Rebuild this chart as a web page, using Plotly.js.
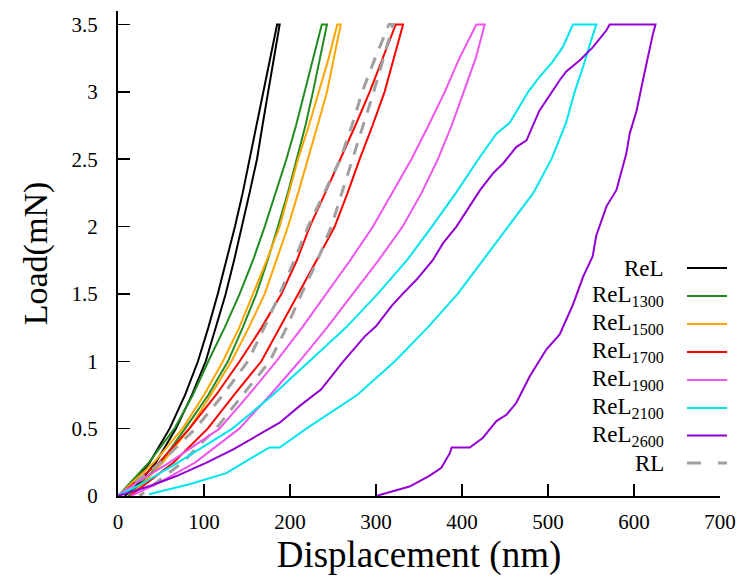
<!DOCTYPE html>
<html>
<head>
<meta charset="utf-8">
<script src="https://cdn.plot.ly/plotly-3.0.1.min.js"></script>
<style>html,body{margin:0;padding:0;background:#fff;}#chart{width:743px;height:580px;}</style>
</head>
<body>
<div id="chart"></div>
<script>
// ---- data (displacement nm, load mN): loading, hold, unloading ----
const relX = [0, 18, 37, 60, 78, 93, 105, 116, 126, 136, 145, 153, 161, 169, 177, 185,
              188, 181, 174.6, 168, 161.6, 153, 144.4, 135, 125.2, 114, 102, 86, 67.4, 44, 25, 8];
const relY = [0, 0.1, 0.25, 0.5, 0.75, 1.0, 1.25, 1.5, 1.75, 2.0, 2.25, 2.5, 2.75, 3.0, 3.25, 3.5,
              3.5, 3.25, 3.0, 2.75, 2.5, 2.25, 2.0, 1.75, 1.5, 1.25, 1.0, 0.75, 0.5, 0.25, 0.1, 0];

const rel1300X = [0, 14, 36, 65.6, 87, 105, 124, 141.5, 157, 170.6, 183, 195.8, 207, 217.1, 227, 237,
                  243, 235, 226.7, 218, 208.1, 197.5, 186, 174, 160.9, 145, 127.9, 105, 78, 50, 28, 12];
const rel1300Y = relY.slice();

const rel1500X = [0, 17, 42, 75, 100, 122, 141, 157, 173, 188, 199, 209.3, 222, 233.4, 245, 255,
                  259, 251, 243, 232, 220.9, 209.5, 197.7, 184.5, 170.6, 152, 132, 108, 83, 52, 30, 14];
const rel1500Y = relY.slice();

const rel1700X = [0, 20, 48, 83, 114, 141.5, 167, 190, 208, 223, 241, 258.6, 276, 292.7, 308, 323,
                  331.5, 321, 310, 296, 281, 267, 252, 231, 209.3, 188, 166.7, 135, 104.3, 65, 35, 14];
const rel1700Y = relY.slice();

const rel1900X = [0, 22, 60, 118, 152, 184, 214, 242.3, 270, 296.5, 319, 341.2, 361, 380, 397, 416.7,
                  426.4, 416, 402, 388, 372, 353, 331, 303, 273, 243, 211, 177, 141, 90, 48, 15];
const rel1900Y = relY.slice();

const rel2100X = [0, 30, 70, 133, 180, 223, 265, 302, 336, 365, 393, 419, 440, 455.5, 477, 490, 505, 517, 529,
                  556.3, 550, 541, 531, 521, 504, 483, 454, 425, 395, 360, 322, 278, 219, 188, 176, 152, 126, 83, 36];
const rel2100Y = [0, 0.1, 0.25, 0.5, 0.75, 1.0, 1.25, 1.5, 1.75, 2.0, 2.25, 2.5, 2.69, 2.77, 3.0, 3.11, 3.22, 3.33, 3.5,
                  3.5, 3.38, 3.19, 3.0, 2.77, 2.5, 2.25, 2.0, 1.75, 1.5, 1.25, 1.0, 0.75, 0.5, 0.36, 0.36, 0.27, 0.17, 0.087, 0.013];

const rel2600X = [0, 37, 68, 103, 134, 161, 188, 211, 236, 262, 287, 300, 318, 331, 347, 366, 378, 393.5, 409, 421, 436, 448, 463, 475, 490, 505, 514, 521, 537, 552, 568, 571.7,
                  625, 622, 616, 610.5, 603, 595, 591, 579.5, 568, 556, 552, 541, 529, 513.6, 498, 479, 463, 452, 440, 424, 409, 388, 386, 376, 362, 339, 300];
const rel2600Y = [0, 0.074, 0.148, 0.247, 0.346, 0.444, 0.544, 0.667, 0.79, 1.0, 1.185, 1.26, 1.41, 1.5, 1.605, 1.75, 1.877, 2.0, 2.15, 2.27, 2.395, 2.47, 2.59, 2.64, 2.86, 3.01, 3.09, 3.15, 3.235, 3.33, 3.457, 3.5,
                  3.5, 3.43, 3.26, 3.09, 2.86, 2.69, 2.54, 2.27, 2.15, 1.93, 1.78, 1.63, 1.42, 1.2, 1.087, 0.89, 0.69, 0.605, 0.556, 0.43, 0.36, 0.36, 0.32, 0.21, 0.15, 0.07, 0];

const rlX = [0, 20, 50, 90, 122, 151, 170, 188, 205, 221, 240, 258.6, 272, 284, 299, 315,
             320, 309, 297.3, 285, 272.6, 261, 248, 232, 213.3, 196, 176.4, 145, 114, 75, 45, 25];
const rlY = relY.slice();

const seriesNames = ["ReL", "ReL<sub>1300</sub>", "ReL<sub>1500</sub>", "ReL<sub>1700</sub>",
                     "ReL<sub>1900</sub>", "ReL<sub>2100</sub>", "ReL<sub>2600</sub>", "RL"];
const seriesColors = ["#000000", "#228B22", "#FFA500", "#FF0000", "#EE55EE", "#00E5EE", "#9400D3", "#A0A0A0"];
const xTickVals = [0, 100, 200, 300, 400, 500, 600, 700];
const yTickVals = [0, 0.5, 1, 1.5, 2, 2.5, 3, 3.5];
const yTickText = ["0", "0.5", "1", "1.5", "2", "2.5", "3", "3.5"];

const seriesX = [relX, rel1300X, rel1500X, rel1700X, rel1900X, rel2100X, rel2600X, rlX];
const seriesY = [relY, rel1300Y, rel1500Y, rel1700Y, rel1900Y, rel2100Y, rel2600Y, rlY];

// ---- layout geometry ----
const FONT = '"Liberation Serif", "Times New Roman", Times, "DejaVu Serif", serif';
const W = 743, H = 580;
const M = {l: 118, r: 23, t: 11, b: 84};
const pw = W - M.l - M.r, ph = H - M.t - M.b;
const px2paper = (px) => (px - M.l) / pw;
const py2paper = (py) => (H - M.b - py) / ph;

const traces = seriesX.map((xs, i) => ({
  type: 'scatter', mode: 'lines', x: xs, y: seriesY[i], name: seriesNames[i],
  line: {color: seriesColors[i], width: i === 7 ? 3 : 2, dash: i === 7 ? '12px,10px' : 'solid'},
  showlegend: false, hoverinfo: 'skip'
}));
const order = [0, 1, 2, 3, 7, 4, 5, 6];
const data = order.map(i => traces[i]);

const legendRowY = [268, 296, 324, 352, 380, 408, 435.5, 463];
const annotations = [];
const shapes = [];
seriesNames.forEach((nm, i) => {
  annotations.push({
    xref: 'paper', yref: 'paper', x: px2paper(666), y: py2paper(legendRowY[i]),
    xanchor: 'right', yanchor: 'middle', text: nm, showarrow: false,
    font: {family: FONT, size: 23, color: '#000'}
  });
  shapes.push({
    type: 'line', xref: 'paper', yref: 'paper',
    x0: px2paper(687), x1: px2paper(727), y0: py2paper(legendRowY[i]), y1: py2paper(legendRowY[i]),
    line: {color: seriesColors[i], width: i === 7 ? 3 : 2, dash: i === 7 ? '14px,17px' : 'solid'}
  });
});

const layout = {
  width: W, height: H, margin: M,
  paper_bgcolor: '#fff', plot_bgcolor: '#fff',
  font: {family: FONT, color: '#000'},
  showlegend: false,
  xaxis: {
    range: [0, 700], tickvals: xTickVals, ticktext: xTickVals.map(String),
    ticks: 'inside', ticklen: 12, tickwidth: 1.5, tickcolor: '#000',
    showline: true, linewidth: 2, linecolor: '#000', mirror: false,
    showgrid: false, zeroline: false, ticklabelstandoff: 6,
    tickfont: {family: FONT, size: 21, color: '#000'},
    title: {text: 'Displacement (nm)', font: {family: FONT, size: 37, color: '#000'}, standoff: 6}
  },
  yaxis: {
    range: [0, 3.6], tickvals: yTickVals, ticktext: yTickText,
    ticks: 'inside', ticklen: 12, tickwidth: 1.5, tickcolor: '#000',
    showline: true, linewidth: 2, linecolor: '#000', mirror: false,
    showgrid: false, zeroline: false, ticklabelstandoff: 14,
    tickfont: {family: FONT, size: 21, color: '#000'},
    title: {text: 'Load(mN)', font: {family: FONT, size: 34, color: '#000'}, standoff: 14}
  },
  annotations: annotations,
  shapes: shapes
};

Plotly.newPlot('chart', data, layout, {staticPlot: true, displayModeBar: false});
</script>
</body>
</html>
